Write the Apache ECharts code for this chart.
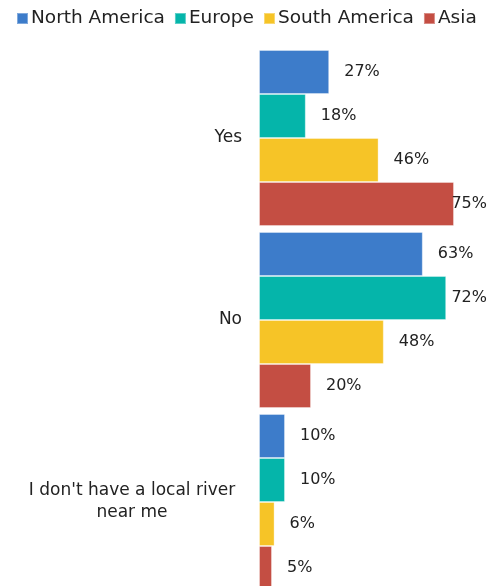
<!DOCTYPE html>
<html><head><meta charset="utf-8">
<script src="https://cdn.jsdelivr.net/npm/echarts@6/dist/echarts.min.js"></script>
<style>html,body{margin:0;padding:0;background:#fff;overflow:hidden;}#c{width:489px;height:600px;}</style>
</head><body><div id="c"></div>
<script>
const categories = ["Yes", "No", "I don't have a local river near me"];
const categoryLines = {"I don't have a local river near me": ["I don't have a local river", "near me"]};
const seriesNames = ["North America", "Europe", "South America", "Asia"];
const northAmerica = [27, 63, 10];
const europe = [18, 72, 10];
const southAmerica = [46, 48, 6];
const asia = [75, 20, 5];
const colors = ["#3d7cca", "#05b5aa", "#f6c427", "#c44e43"];
const values = [northAmerica, europe, southAmerica, asia];
const font = "DejaVu Sans";

const chart = echarts.init(document.getElementById('c'), null, {renderer: 'canvas'});
chart.setOption({
  animation: false,
  color: colors,
  textStyle: {fontFamily: font},
  legend: {
    top: 4, left: 11,
    itemWidth: 11, itemHeight: 11, itemGap: 9,
    icon: 'rect',
    textStyle: {fontSize: 18.5, color: '#222', fontFamily: font, padding: [0,0,0,-2]},
    data: seriesNames
  },
  grid: {left: 259, top: 47, width: 208, height: 546, containLabel: false},
  xAxis: {type: 'value', min: 0, max: 80, show: false},
  yAxis: {
    type: 'category', inverse: true, data: categories,
    axisLine: {show: false}, axisTick: {show: false},
    axisLabel: {
      margin: 17, fontSize: 17, color: '#222', fontFamily: font, lineHeight: 22,
      formatter: v => categoryLines[v] ? categoryLines[v].map(s => '{c|' + s + '}').join('\n') : v,
      rich: {c: {width: 220, align: 'center', fontSize: 17, color: '#222', fontFamily: font, lineHeight: 22}}
    }
  },
  series: values.map((arr, i) => ({
    name: seriesNames[i], type: 'bar', data: arr,
    barGap: 0, barCategoryGap: '3.3%',
    itemStyle: {borderColor: 'rgba(255,255,255,0.35)', borderWidth: 1},
    label: {show: true, position: 'right', distance: 15, formatter: '{c}%', fontSize: 16, color: '#222', fontFamily: font},
    labelLayout: p => (p.labelRect.x + p.labelRect.width > 487)
      ? {x: 487 - p.labelRect.width, y: p.rect.y + p.rect.height / 2, align: 'left', verticalAlign: 'middle'}
      : {}
  }))
});
</script></body></html>
